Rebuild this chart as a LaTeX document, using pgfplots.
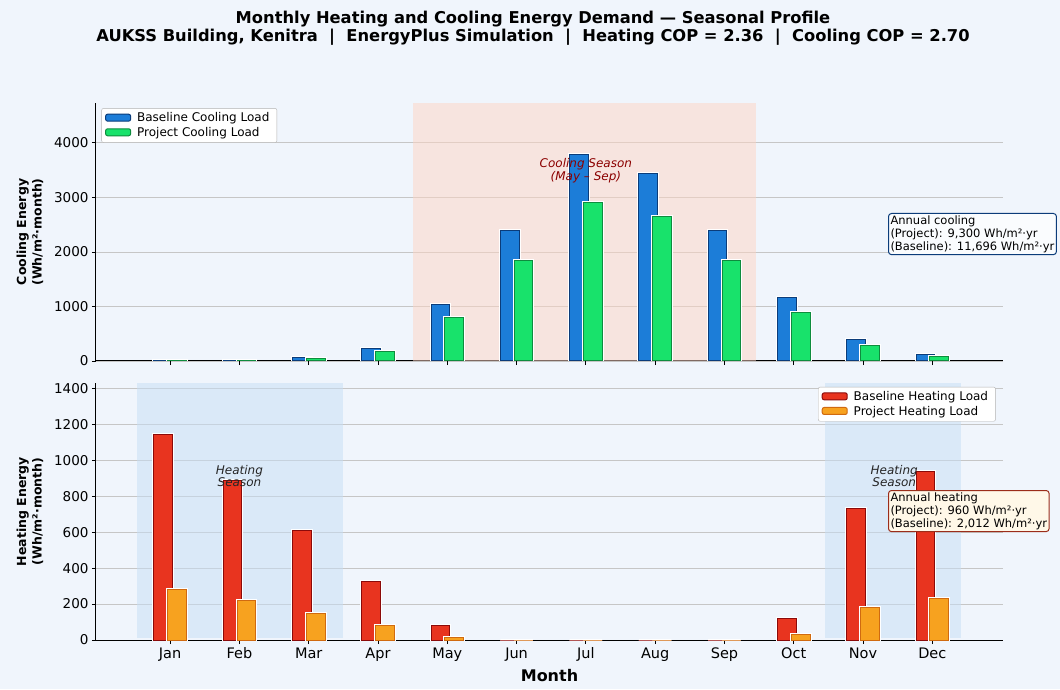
\documentclass[border=0pt]{standalone}
\usepackage{pgfplots}
\pgfplotsset{compat=1.18}
\usepackage{fontspec}
\setmainfont{DejaVu Sans}
\setsansfont{DejaVu Sans}
\definecolor{bg}{HTML}{F0F5FC}
\definecolor{cbase}{HTML}{1C7DD8}
\definecolor{cbaseE}{HTML}{0B3C7A}
\definecolor{cproj}{HTML}{18E26B}
\definecolor{cprojE}{HTML}{0E8C3E}
\definecolor{hbase}{HTML}{E8341F}
\definecolor{hbaseE}{HTML}{8B0A0A}
\definecolor{hproj}{HTML}{F7A21F}
\definecolor{hprojE}{HTML}{D06A10}
\definecolor{coolshade}{RGB}{255,212,196}
\definecolor{heatshade}{RGB}{198,222,246}
\definecolor{darkred}{HTML}{8B0000}

\pgfplotstableread{
x cb cp hb hp
0 5 4 1144 280
1 8 6 889 220
2 65 50 611 150
3 220 165 325 80
4 1030 805 80 15
5 2400 1850 0 0
6 3780 2900 0 0
7 3430 2640 0 0
8 2400 1850 0 0
9 1155 880 120 30
10 385 290 730 180
11 125 90 935 230
}\datatab

\pgfplotsset{
  common/.style={
    scale only axis, width=907pt,
    xmin=-1.07, xmax=12.02, ymin=0,
    axis lines*=left,
    axis line style={black, line width=1pt},
    tick align=outside,
    xtick={0,...,11},
    ymajorgrids,
    grid style={gray!45, line width=0.8pt},
    tick style={black, line width=0.8pt},
    major tick length=4pt,
    ticklabel style={font=\fontsize{13.5}{15}\selectfont},
    /pgf/number format/assume math mode=true,
    /pgf/number format/1000 sep={},
    ylabel style={align=center, font=\bfseries\fontsize{12.5}{15.5}\selectfont},
    ylabel shift=4pt,
    legend style={font=\fontsize{12}{14}\selectfont, draw=gray!60, fill=white, rounded corners=2pt, row sep=0pt, inner sep=2.5pt,
      nodes={inner xsep=5pt}},
    legend cell align=left,
    legend image code/.code={\draw[##1] (2pt,-3pt) rectangle (27pt,4pt);},
  },
  bars/.style={ybar, bar width=0.27, line width=1pt, preaction={draw=white, line width=3pt}},
}

\begin{document}
\begin{tikzpicture}[x=1pt,y=1pt]
\fill[bg] (0,0) rectangle (1060,689);

% Top axis: cooling
\begin{axis}[common, at={(96pt,328pt)}, anchor=south west, height=258pt,
  ymax=4730, ytick={0,1000,...,4000}, xticklabels={},
  ylabel={Cooling Energy\\(Wh/m²·month)},
  legend style={at={(0.006,0.98)}, anchor=north west}]
\fill[coolshade, fill opacity=0.5] (axis cs:3.5,0) rectangle (axis cs:8.45,4730);
\addplot[bars, bar shift=-0.1, fill=cbase, draw=cbaseE] table[x=x, y=cb] {\datatab};
\addlegendentry{Baseline Cooling Load}
\addplot[bars, bar shift=0.1, fill=cproj, draw=cprojE] table[x=x, y=cp] {\datatab};
\addlegendentry{Project Cooling Load}
\node[font=\itshape\fontsize{12}{12.5}\selectfont, text=darkred, align=center] at (axis cs:6,3490) {Cooling Season\\(May – Sep)};
\end{axis}

% Bottom axis: heating
\begin{axis}[common, at={(96pt,49pt)}, anchor=south west, height=257pt,
  ymax=1430, ytick={0,200,...,1400},
  xticklabels={Jan,Feb,Mar,Apr,May,Jun,Jul,Aug,Sep,Oct,Nov,Dec},
  x tick label style={font=\fontsize{14.5}{16}\selectfont},
  ylabel={Heating Energy\\(Wh/m²·month)},
  xlabel={Month}, xlabel style={font=\bfseries\fontsize{16}{18}\selectfont, yshift=-1pt},
  legend style={at={(0.992,0.985)}, anchor=north east}]
\fill[heatshade, fill opacity=0.5] (axis cs:-0.48,10) rectangle (axis cs:2.5,1430);
\fill[heatshade, fill opacity=0.5] (axis cs:9.45,10) rectangle (axis cs:11.42,1430);
\addplot[bars, bar shift=-0.1, fill=hbase, draw=hbaseE] table[x=x, y=hb] {\datatab};
\addlegendentry{Baseline Heating Load}
\addplot[bars, bar shift=0.1, fill=hproj, draw=hprojE] table[x=x, y=hp] {\datatab};
\addlegendentry{Project Heating Load}
\node[font=\itshape\fontsize{12}{12}\selectfont, text=black!85, align=center] at (axis cs:1,910) {Heating\\Season};
\node[font=\itshape\fontsize{12}{12}\selectfont, text=black!85, align=center] at (axis cs:10.45,910) {Heating\\Season};
\end{axis}

% Annotation boxes
\node[draw=cbaseE, line width=1pt, rounded corners=3pt, fill=white!70!bg, align=left, anchor=north west, inner sep=2pt,
  font=\fontsize{11.5}{13}\selectfont] at (888,476) {Annual cooling\\(Project): 9,300 Wh/m²·yr\\(Baseline): 11,696 Wh/m²·yr};
\node[draw=hbaseE!70!brown, line width=1pt, rounded corners=3pt, fill={rgb,255:red,255;green,248;blue,232}, align=left, anchor=north west, inner sep=2pt,
  font=\fontsize{11.5}{13}\selectfont] at (888,199) {Annual heating\\(Project): 960 Wh/m²·yr\\(Baseline): 2,012 Wh/m²·yr};

% Title
\node[font=\bfseries\fontsize{16.3}{17.5}\selectfont, align=center] at (533,661) {Monthly Heating and Cooling Energy Demand — Seasonal Profile\\AUKSS Building, Kenitra \ | \ EnergyPlus Simulation \ | \ Heating COP = 2.36 \ | \ Cooling COP = 2.70};
\end{tikzpicture}
\end{document}
